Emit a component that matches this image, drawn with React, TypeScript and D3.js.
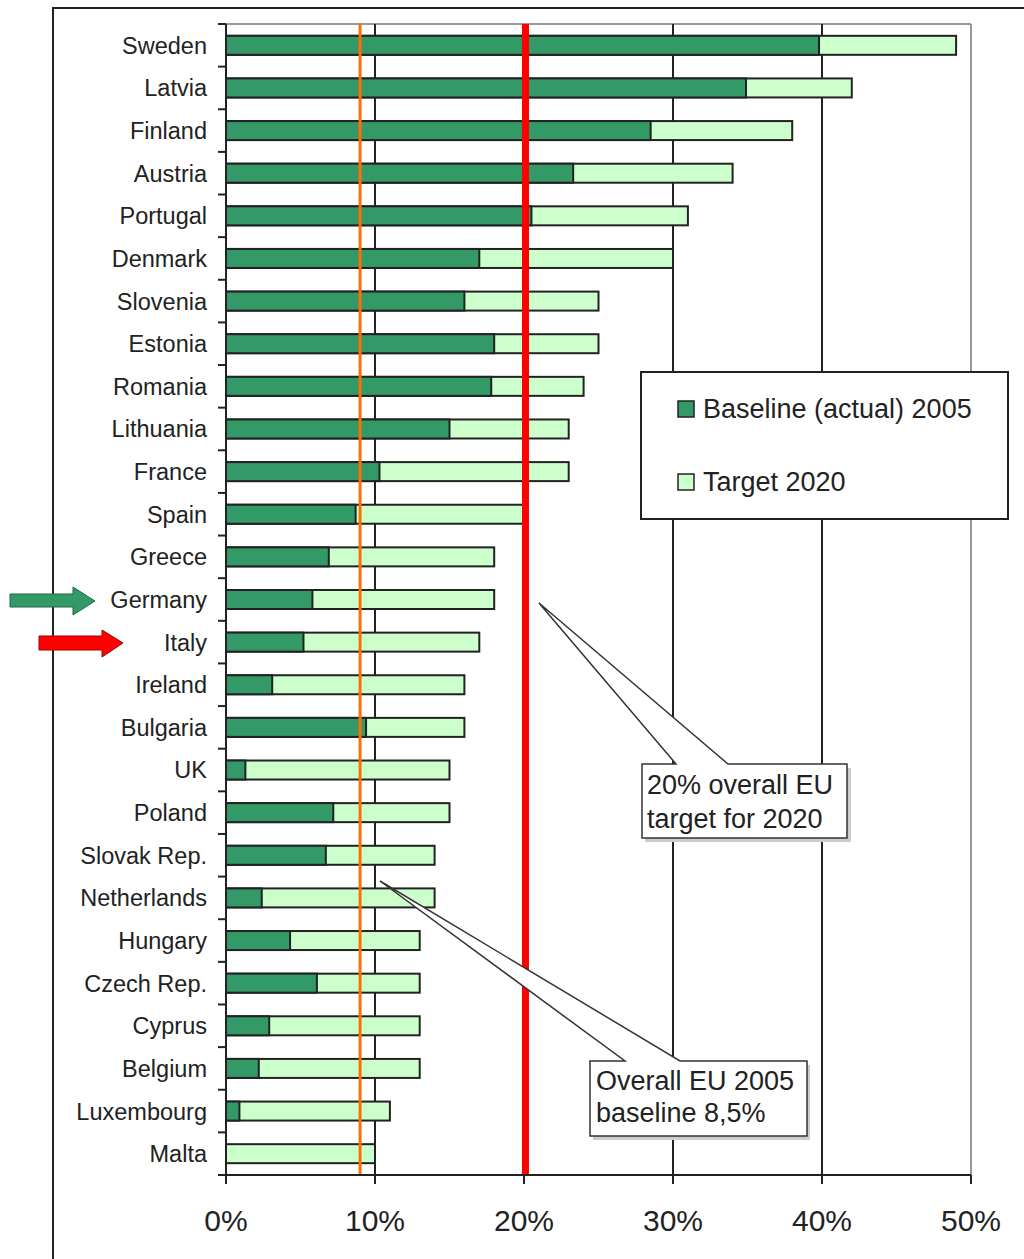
import * as d3 from 'd3';

const countries = [
  'Sweden', 'Latvia', 'Finland', 'Austria', 'Portugal', 'Denmark', 'Slovenia', 'Estonia',
  'Romania', 'Lithuania', 'France', 'Spain', 'Greece', 'Germany', 'Italy', 'Ireland',
  'Bulgaria', 'UK', 'Poland', 'Slovak Rep.', 'Netherlands', 'Hungary', 'Czech Rep.',
  'Cyprus', 'Belgium', 'Luxembourg', 'Malta',
];
const baseline2005 = [
  39.8, 34.9, 28.5, 23.3, 20.5, 17.0, 16.0, 18.0, 17.8, 15.0, 10.3, 8.7, 6.9, 5.8, 5.2,
  3.1, 9.4, 1.3, 7.2, 6.7, 2.4, 4.3, 6.1, 2.9, 2.2, 0.9, 0,
];
const target2020 = [
  49, 42, 38, 34, 31, 30, 25, 25, 24, 23, 23, 20, 18, 18, 17, 16, 16, 15, 15, 14, 14, 13,
  13, 13, 13, 11, 10,
];
const xTicks = [0, 10, 20, 30, 40, 50];
const euBaselineLine = 9.0;
const euTargetLine = 20.1;
const legendLabels = ['Baseline (actual) 2005', 'Target 2020'];
const calloutTarget = ['20% overall EU', 'target for 2020'];
const calloutBaseline = ['Overall EU 2005', 'baseline 8,5%'];

const FONT = '"Liberation Sans", Arial, sans-serif';
const DARK = '#339966';
const LIGHT = '#ccffcc';

export default function App() {
  const x = d3.scaleLinear().domain([0, 50]).range([226, 971]);
  const y = d3.scaleBand().domain(countries).range([24, 1175]);
  const barH = 19;
  const top = 24;
  const bottom = 1175;

  const boundaries = d3.range(countries.length + 1).map((i) => top + i * y.step());

  return (
    <svg
      width={1024}
      height={1259}
      style={{ position: 'absolute', left: 0, top: 0, background: '#fff' }}
      fontFamily={FONT}
    >
      {/* outer frame */}
      <path d="M53,1259 V8 H1024" fill="none" stroke="#222" strokeWidth={2} />

      {/* top border */}
      <line x1={x(0)} x2={x(50)} y1={top} y2={top} stroke="#999" strokeWidth={2} />

      {/* gridlines */}
      {xTicks.slice(1).map((t) => (
        <line
          key={t}
          x1={x(t)}
          x2={x(t)}
          y1={top}
          y2={bottom}
          stroke={t === 50 ? '#999' : '#222'}
          strokeWidth={2}
        />
      ))}

      {/* bars */}
      {countries.map((c, i) => {
        const cy = (y(c) ?? 0) + y.bandwidth() / 2;
        return (
          <g key={c}>
            <rect
              x={x(0)}
              y={cy - barH / 2}
              width={x(target2020[i]) - x(0)}
              height={barH}
              fill={LIGHT}
              stroke="#222"
              strokeWidth={2}
            />
            {baseline2005[i] > 0 && (
              <rect
                x={x(0)}
                y={cy - barH / 2}
                width={x(baseline2005[i]) - x(0)}
                height={barH}
                fill={DARK}
                stroke="#222"
                strokeWidth={2}
              />
            )}
            <text
              x={207}
              y={cy}
              dy="0.36em"
              textAnchor="end"
              fontSize={23.5}
              fill="#222"
            >
              {c}
            </text>
          </g>
        );
      })}

      {/* reference lines */}
      <line
        x1={x(euBaselineLine)}
        x2={x(euBaselineLine)}
        y1={top}
        y2={bottom}
        stroke="#ff7000"
        strokeWidth={3}
      />
      <line
        x1={x(euTargetLine)}
        x2={x(euTargetLine)}
        y1={top}
        y2={bottom}
        stroke="#ff0000"
        strokeWidth={7}
      />

      {/* y axis */}
      <line x1={x(0)} x2={x(0)} y1={top} y2={bottom} stroke="#222" strokeWidth={2} />
      {boundaries.map((b, i) => (
        <line key={i} x1={218} x2={x(0)} y1={b} y2={b} stroke="#222" strokeWidth={2} />
      ))}

      {/* x axis */}
      <line x1={x(0) - 8} x2={x(50)} y1={bottom} y2={bottom} stroke="#222" strokeWidth={2} />
      {xTicks.map((t) => (
        <g key={t}>
          <line x1={x(t)} x2={x(t)} y1={bottom} y2={bottom + 9} stroke="#222" strokeWidth={2} />
          <text x={x(t)} y={1231} textAnchor="middle" fontSize={30} fill="#222">
            {t}%
          </text>
        </g>
      ))}

      {/* legend */}
      <rect x={641} y={372} width={367} height={147} fill="#fff" stroke="#222" strokeWidth={2} />
      {legendLabels.map((l, i) => (
        <g key={l}>
          <rect
            x={678}
            y={401 + i * 73}
            width={16}
            height={16}
            fill={i === 0 ? DARK : LIGHT}
            stroke="#222"
            strokeWidth={1.5}
          />
          <text x={703} y={418 + i * 73} fontSize={27} fill="#222">
            {l}
          </text>
        </g>
      ))}

      {/* callout: EU target */}
      <g>
        <rect x={645} y={768} width={206} height={74} fill="#ccc" />
        <path
          d="M642,764 H676 L539,603 L728,764 H847 V838 H642 Z"
          fill="#fff"
          stroke="#333"
          strokeWidth={1.5}
        />
        {calloutTarget.map((t, i) => (
          <text key={t} x={647} y={794 + i * 34} fontSize={27} fill="#222">
            {t}
          </text>
        ))}
      </g>

      {/* callout: EU baseline */}
      <g>
        <rect x={593} y={1065} width={217} height={75} fill="#ccc" />
        <path
          d="M590,1061 H625 L380,881 L680,1061 H807 V1136 H590 Z"
          fill="#fff"
          stroke="#333"
          strokeWidth={1.5}
        />
        {calloutBaseline.map((t, i) => (
          <text key={t} x={596} y={1090 + i * 32} fontSize={27} fill="#222">
            {t}
          </text>
        ))}
      </g>

      {/* arrows */}
      <path
        d="M10,594 H73 V587 L95,601 L73,615 V607 H10 Z"
        fill={DARK}
        stroke="#1f6b45"
        strokeWidth={1}
      />
      <path
        d="M39,636 H102 V630 L123,643 L102,657 V650 H39 Z"
        fill="#ff0000"
        stroke="#a00000"
        strokeWidth={1}
      />
    </svg>
  );
}
